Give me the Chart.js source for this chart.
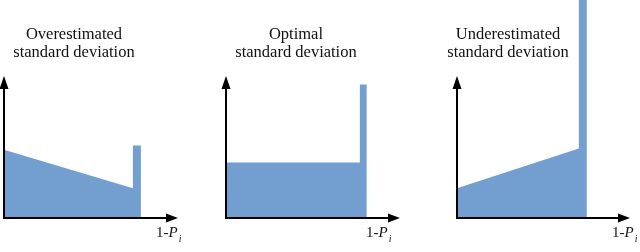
<!DOCTYPE html>
<html>
<head>
<meta charset="utf-8">
<script src="https://cdn.jsdelivr.net/npm/chart.js@4.4.0/dist/chart.umd.min.js"></script>
<style>
    body { margin: 0; background: #fff; }
    #wrap { position: relative; width: 640px; height: 252px; overflow: hidden; font-family: 'Liberation Serif', 'Times New Roman', serif; color: #111; }
    #wrap canvas { position: absolute; top: 0; }
    .title { position: absolute; width: 200px; text-align: center; font-size: 16.5px; line-height: 18px; top: 25px; }
    .xlabel { position: absolute; top: 225px; font-size: 15px; line-height: 15px; white-space: nowrap; }
    .xlabel i sub { font-size: 10px; vertical-align: -5px; margin-left: 1px; }
</style>
</head>
<body>
<div id="wrap"></div>
<script>
// panel data (x: 0..1 is the continuous part, then the spike)
const panelTitles = [
    ['Overestimated', 'standard deviation'],
    ['Optimal', 'standard deviation'],
    ['Underestimated', 'standard deviation']
];
const rampX = [0, 1];
const rampY = [
    [0.48, 0.21],
    [0.39, 0.39],
    [0.21, 0.49]
];
const spikeHeight = [0.51, 0.94, 1.6];
const spikeWidth = [0.062, 0.052, 0.066];
const axisLength = [1.35, 1.30, 1.42];
const yArrowTop = 1.0;
const yMax = 1.535;

// layout of the three panels (pixels)
const originX = [4, 226, 457];
const axisPx = [174, 174, 173];
const titleCenter = [74, 296, 508];
const labelLeft = [156, 366, 612];
const pad = 6;

const arrowAxes = {
    id: 'arrowAxes',
    afterDatasetsDraw(chart) {
        const { ctx, scales: { x, y } } = chart;
        const x0 = x.getPixelForValue(0);
        const y0 = y.getPixelForValue(0);
        const xEnd = x.getPixelForValue(x.max);
        const yEnd = y.getPixelForValue(yArrowTop);
        ctx.save();
        ctx.strokeStyle = '#000';
        ctx.fillStyle = '#000';
        ctx.lineWidth = 2;
        ctx.beginPath();
        ctx.moveTo(x0, y0);
        ctx.lineTo(xEnd - 8, y0);
        ctx.moveTo(x0, y0 + 1);
        ctx.lineTo(x0, yEnd + 8);
        ctx.stroke();
        // arrow heads
        ctx.beginPath();
        ctx.moveTo(xEnd, y0);
        ctx.lineTo(xEnd - 12, y0 - 4.5);
        ctx.lineTo(xEnd - 12, y0 + 4.5);
        ctx.closePath();
        ctx.fill();
        ctx.beginPath();
        ctx.moveTo(x0, yEnd);
        ctx.lineTo(x0 - 4.5, yEnd + 13);
        ctx.lineTo(x0 + 4.5, yEnd + 13);
        ctx.closePath();
        ctx.fill();
        ctx.restore();
    }
};

const wrap = document.getElementById('wrap');

panelTitles.forEach((lines, i) => {
    const canvas = document.createElement('canvas');
    canvas.width = axisPx[i] + pad * 2;
    canvas.height = 252;
    canvas.style.left = (originX[i] - pad) + 'px';
    wrap.appendChild(canvas);

    const x1 = rampX[1] + spikeWidth[i];
    const shape = [
        { x: rampX[0], y: rampY[i][0] },
        { x: rampX[1], y: rampY[i][1] },
        { x: rampX[1], y: spikeHeight[i] },
        { x: x1, y: spikeHeight[i] },
        { x: x1, y: 0 }
    ];

    new Chart(canvas, {
        type: 'line',
        data: {
            datasets: [{
                data: shape,
                borderWidth: 0,
                borderColor: 'rgba(0,0,0,0)',
                backgroundColor: '#729fd0',
                pointRadius: 0,
                fill: 'origin',
                tension: 0
            }]
        },
        options: {
            responsive: false,
            animation: false,
            events: [],
            layout: { padding: { left: pad, right: pad, top: 0, bottom: 34 } },
            plugins: { legend: { display: false }, tooltip: { enabled: false } },
            scales: {
                x: { type: 'linear', min: 0, max: axisLength[i], display: false },
                y: { min: 0, max: yMax, display: false }
            }
        },
        plugins: [arrowAxes]
    });

    const t = document.createElement('div');
    t.className = 'title';
    t.style.left = (titleCenter[i] - 100) + 'px';
    t.innerHTML = lines.join('<br>');
    wrap.appendChild(t);

    const lab = document.createElement('div');
    lab.className = 'xlabel';
    lab.style.left = labelLeft[i] + 'px';
    lab.innerHTML = '1-<i>P<sub>i</sub></i>';
    wrap.appendChild(lab);
});
</script>
</body>
</html>
